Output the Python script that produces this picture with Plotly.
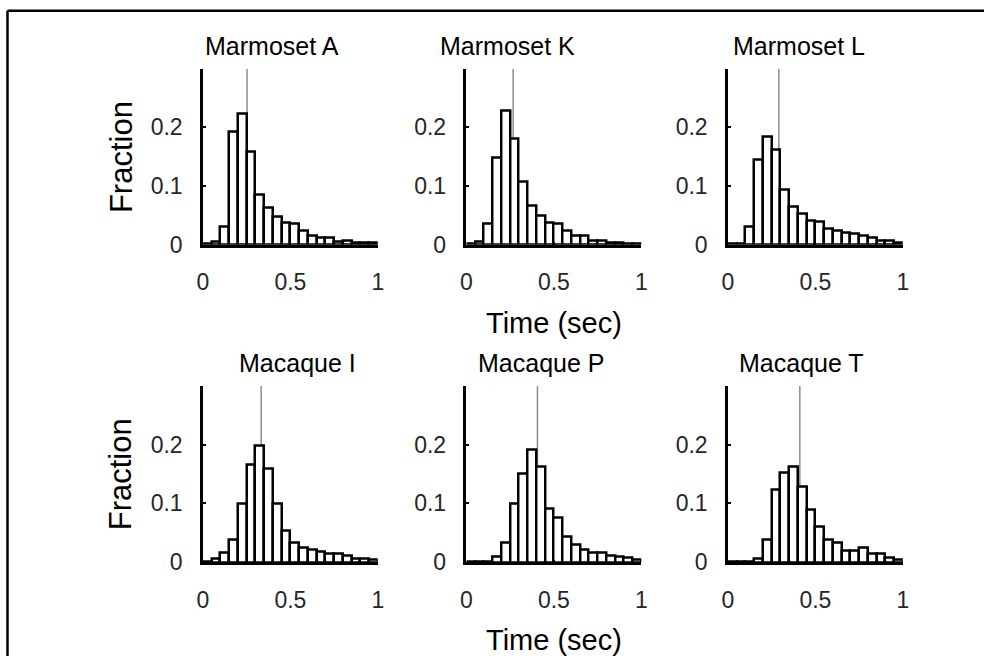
import plotly.graph_objects as go

# ---------------- data ----------------
bin_centers = [0.025, 0.075, 0.125, 0.175, 0.225, 0.275, 0.325, 0.375, 0.425, 0.475,
               0.525, 0.575, 0.625, 0.675, 0.725, 0.775, 0.825, 0.875, 0.925, 0.975]
bin_width = 0.05

panel_titles = ["Marmoset A", "Marmoset K", "Marmoset L",
                "Macaque I", "Macaque P", "Macaque T"]

marmoset_A = [0.001, 0.005, 0.030, 0.192, 0.224, 0.158, 0.085, 0.063, 0.048, 0.0375,
              0.035, 0.023, 0.015, 0.011, 0.011, 0.005, 0.007, 0.003, 0.003, 0.003]
marmoset_K = [0.002, 0.005, 0.035, 0.148, 0.228, 0.180, 0.107, 0.067, 0.049, 0.0375,
              0.035, 0.023, 0.016, 0.016, 0.006, 0.006, 0.004, 0.003, 0.002, 0.002]
marmoset_L = [0.001, 0.001, 0.030, 0.144, 0.184, 0.162, 0.093, 0.064, 0.053, 0.041,
              0.039, 0.027, 0.024, 0.020, 0.018, 0.015, 0.012, 0.007, 0.007, 0.004]
macaque_I = [0.001, 0.006, 0.017, 0.039, 0.100, 0.166, 0.198, 0.159, 0.100, 0.053,
             0.033, 0.025, 0.021, 0.018, 0.014, 0.014, 0.011, 0.007, 0.007, 0.004]
macaque_P = [0.001, 0.001, 0.001, 0.010, 0.033, 0.100, 0.151, 0.191, 0.163, 0.091,
             0.076, 0.043, 0.030, 0.021, 0.017, 0.017, 0.012, 0.010, 0.008, 0.005]
macaque_T = [0.001, 0.001, 0.001, 0.006, 0.039, 0.124, 0.152, 0.162, 0.129, 0.090,
             0.061, 0.039, 0.033, 0.020, 0.020, 0.025, 0.014, 0.014, 0.008, 0.004]

mean_times = [0.252, 0.267, 0.291, 0.333, 0.406, 0.411]

x_tick_vals = [0, 0.5, 1]
x_tick_text = ["0", "0.5", "1"]
y_tick_vals = [0, 0.1, 0.2]
y_tick_text = ["0", "0.1", "0.2"]

series = [marmoset_A, marmoset_K, marmoset_L, macaque_I, macaque_P, macaque_T]

# ---------------- layout geometry (target pixel positions) ----------------
W, H = 990, 669
SX, OX = 0.989, 4.5     # compensation for the capture's scaling
SY, OY = 0.981, -0.8


def px(x):
    return (x - OX) / SX / W


def py(y):
    return 1 - (y - OY) / SY / H


col_px = [(201.7, 376.7), (465.5, 640.5), (727.3, 902.3)]
row_px = [(68, 244), (385, 561.7)]
title_cx = [271, 507, 798, 296, 540, 801]
title_cy = [45, 45, 45, 362, 362, 362]

FONT = "Liberation Sans, Arial, Helvetica, sans-serif"
TICK_COLOR = "#262626"

fig = go.Figure()
layout = dict(
    width=W, height=H,
    margin=dict(l=0, r=0, t=0, b=0),
    paper_bgcolor="white", plot_bgcolor="white",
    showlegend=False, bargap=0,
    font=dict(family=FONT, size=22, color=TICK_COLOR),
)

shapes = []
annotations = []

for i, vals in enumerate(series):
    r, c = divmod(i, 3)
    idx = "" if i == 0 else str(i + 1)
    xa, ya = "x" + idx, "y" + idx
    x0p, x1p = col_px[c]
    y0p, y1p = row_px[r]
    layout["xaxis" + idx] = dict(
        domain=[px(x0p), px(x1p)], range=[0, 1.0], anchor=ya,
        tickvals=x_tick_vals, ticktext=x_tick_text,
        ticks="inside", ticklen=3, tickwidth=1.5, tickcolor="black",
        showline=True, linecolor="black", linewidth=2.5,
        showgrid=False, zeroline=False, ticklabelstandoff=15,
        tickfont=dict(family=FONT, size=23, color=TICK_COLOR),
    )
    layout["yaxis" + idx] = dict(
        domain=[py(y1p), py(y0p)], range=[0, 0.3], anchor=xa,
        tickvals=y_tick_vals, ticktext=y_tick_text,
        ticks="inside", ticklen=3, tickwidth=1.5, tickcolor="black",
        showline=True, linecolor="black", linewidth=2.5,
        showgrid=False, zeroline=False, ticklabelstandoff=13,
        tickfont=dict(family=FONT, size=23, color=TICK_COLOR),
    )
    fig.add_trace(go.Bar(
        x=bin_centers, y=vals, width=bin_width,
        marker=dict(color="white", line=dict(color="black", width=2.5)),
        xaxis=xa, yaxis=ya, hoverinfo="x+y",
    ))
    shapes.append(dict(
        type="line", xref=xa, yref=ya, layer="below",
        x0=mean_times[i], x1=mean_times[i], y0=0, y1=0.3,
        line=dict(color="#8c8c8c", width=1.5),
    ))
    annotations.append(dict(
        text=panel_titles[i], xref="paper", yref="paper",
        x=px(title_cx[i]), y=py(title_cy[i]),
        xanchor="center", yanchor="middle", showarrow=False,
        font=dict(family=FONT, size=25, color="black"),
    ))

for r in range(2):
    y0p, y1p = row_px[r]
    annotations.append(dict(
        text="Fraction", xref="paper", yref="paper",
        x=px(120), y=py((y0p + y1p) / 2), textangle=-90,
        xanchor="center", yanchor="middle", showarrow=False,
        font=dict(family=FONT, size=31, color="black"),
    ))
    annotations.append(dict(
        text="Time (sec)", xref="paper", yref="paper",
        x=px(553), y=py(y1p + 78),
        xanchor="center", yanchor="middle", showarrow=False,
        font=dict(family=FONT, size=29, color="black"),
    ))

# outer frame (top and left edges)
shapes.append(dict(type="line", xref="paper", yref="paper",
                   x0=px(6), x1=1, y0=py(10), y1=py(10),
                   line=dict(color="black", width=2.5)))
shapes.append(dict(type="line", xref="paper", yref="paper",
                   x0=px(6), x1=px(6), y0=0, y1=py(10),
                   line=dict(color="black", width=2.5)))

layout["shapes"] = shapes
layout["annotations"] = annotations
fig.update_layout(**layout)

fig.write_html(
    "out.html",
    config={"displayModeBar": False},
    post_script=(
        "document.documentElement.style.margin='0';"
        "document.documentElement.style.overflow='hidden';"
        "document.body.style.margin='0';"
        "document.body.style.padding='0';"
        "document.body.style.overflow='hidden';"
    ),
)
